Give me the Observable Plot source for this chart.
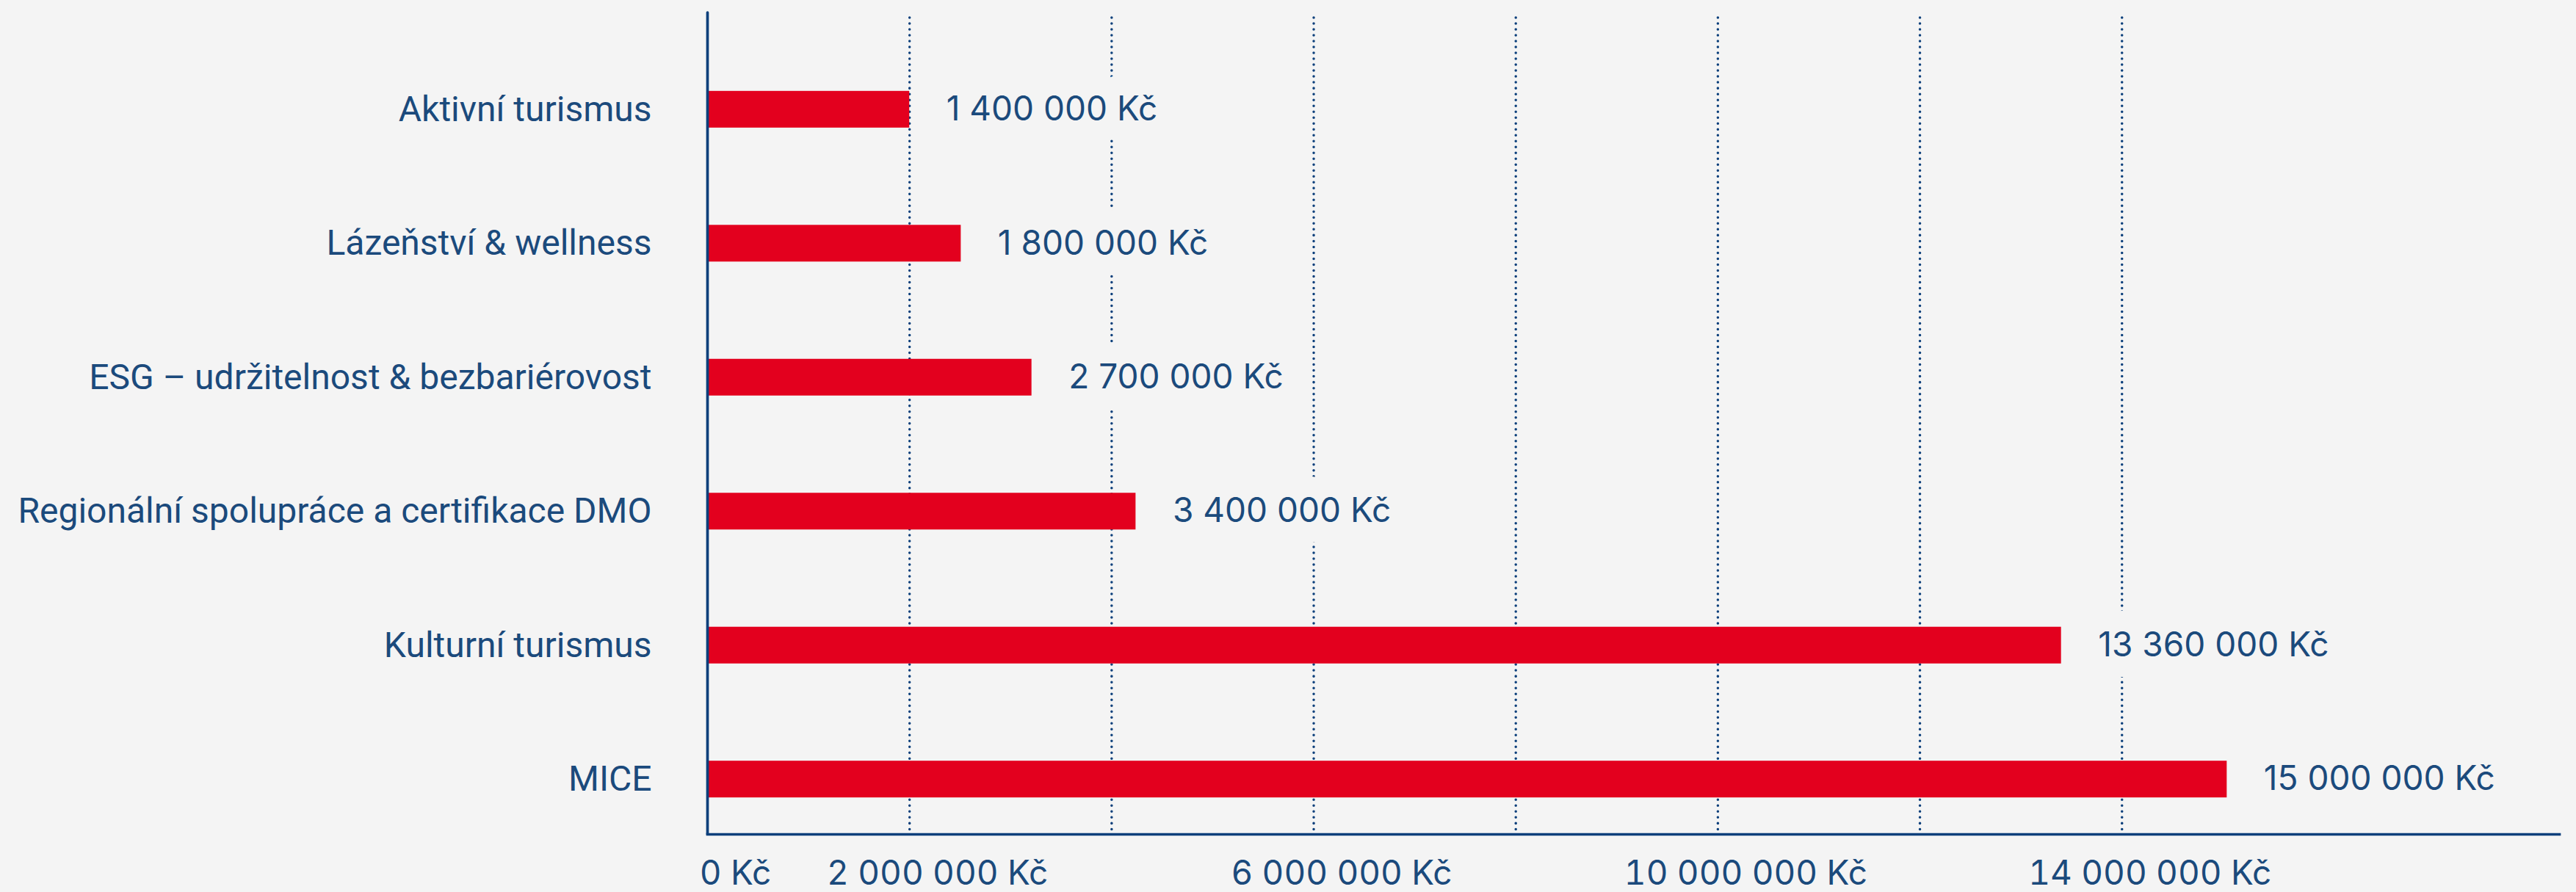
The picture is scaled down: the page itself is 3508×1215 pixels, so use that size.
<!DOCTYPE html>
<html>
<head>
<meta charset="utf-8">
<script src="https://cdn.jsdelivr.net/npm/d3@7"></script>
<script src="https://cdn.jsdelivr.net/npm/@observablehq/plot@0.6"></script>
<style>
  html, body { margin: 0; padding: 0; background: #f4f4f4; }
  #chart svg { display: block; }
</style>
</head>
<body>
<div id="chart"></div>
<script>
// ---- data ----
const categories = [
  "Aktivní turismus",
  "Lázeňství & wellness",
  "ESG – udržitelnost & bezbariérovost",
  "Regionální spolupráce a certifikace DMO",
  "Kulturní turismus",
  "MICE"
];
// amounts printed next to the bars
const amounts = [1400000, 1800000, 2700000, 3400000, 13360000, 15000000];
// bar lengths as drawn in the picture (measured against the axis)
const barLengths = [2000000, 2510000, 3210000, 4240000, 13400000, 15040000];
// axis
const gridTicks = [2000000, 4000000, 6000000, 8000000, 10000000, 12000000, 14000000];
const xTickLabels = [0, 2000000, 6000000, 10000000, 14000000];
const xMax = 18330000;

// ---- styles ----
const bg = "#f4f4f4";
const red = "#e3001e";
const textColor = "#1b4a7c";
const axisColor = "#0b3f7b";
const catFont = "Roboto, 'Noto Sans', sans-serif";
const numFont = "Inter, Roboto, sans-serif";

const locale = d3.formatLocale({decimal: ",", thousands: " ", grouping: [3], currency: ["", " Kč"]});
const fmt = locale.format("$,.0f");

const rows = categories.map((c, i) => ({cat: c, amount: amounts[i], bar: barLengths[i]}));

const chart = Plot.plot({
  width: 3508,
  height: 1215,
  marginLeft: 963,
  marginRight: 23,
  marginTop: 17,
  marginBottom: 79,
  style: {background: bg, fontFamily: catFont, fontSize: "48px", color: textColor},
  x: {domain: [0, xMax]},
  y: {domain: categories, range: [74, 1136], paddingInner: 0.726, paddingOuter: 0.273, round: false},
  marks: [
    Plot.ruleX(gridTicks, {stroke: axisColor, strokeWidth: 3.5, strokeDasharray: "0.01,8", strokeLinecap: "round", insetTop: 7, insetBottom: 3}),
    Plot.text(rows, {x: "bar", y: "cat", text: d => fmt(d.amount), textAnchor: "start", dx: 50,
      fill: textColor, stroke: bg, strokeWidth: 56, strokeLinejoin: "round", fontSize: 46, fontFamily: numFont}),
    Plot.barX(rows, {x: "bar", y: "cat", fill: red}),
    Plot.ruleX([0], {stroke: axisColor, strokeWidth: 3.7, strokeLinecap: "round"}),
    Plot.frame({anchor: "bottom", stroke: axisColor, strokeWidth: 3.7}),
    Plot.axisY({tickSize: 0, tickPadding: 76, fontSize: 48, label: null}),
    Plot.axisX({ticks: xTickLabels, tickSize: 0, tickPadding: 36, tickFormat: fmt, dx: 38, fontSize: 46, fontFamily: numFont, label: null})
  ]
});
document.getElementById("chart").appendChild(chart);
</script>
</body>
</html>
